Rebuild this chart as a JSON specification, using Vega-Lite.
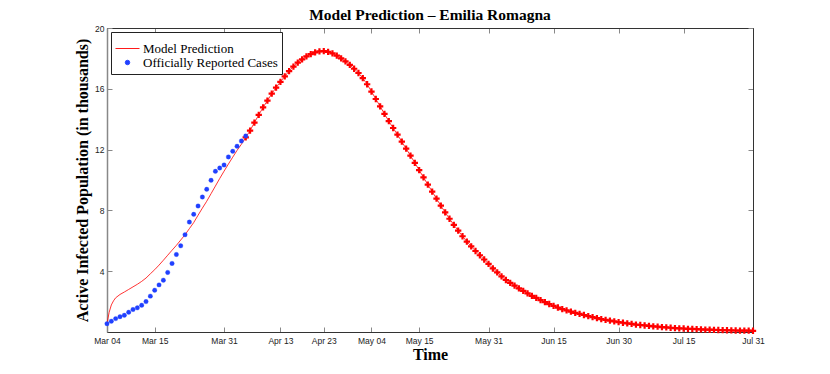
{
  "$schema": "https://vega.github.io/schema/vega-lite/v6.json",
  "width": 646,
  "height": 304,
  "autosize": {"type": "none"},
  "padding": {"left": 107, "top": 28, "right": 77, "bottom": 42},
  "title": {"text": "Model Prediction – Emilia Romagna", "font": "Liberation Serif", "fontSize": 15.5, "fontWeight": "bold", "anchor": "middle", "offset": 1, "color": "black"},
  "config": {
    "view": {"stroke": "#333", "strokeWidth": 1},
    "axis": {"grid": false, "domainColor": "#333", "tickColor": "#888", "tickSize": -5, "labelFont": "Liberation Sans", "labelFontSize": 8.5, "labelColor": "#222", "labelFlush": false, "titleFont": "Liberation Serif", "titleFontSize": 16, "titleFontWeight": "bold", "titleColor": "black"},
    "legend": {"title": null, "orient": "top-left", "offset": 4, "strokeColor": "#222", "fillColor": "white", "padding": 4,
      "labelFont": "Liberation Serif", "labelFontSize": 13, "labelColor": "black", "labelOffset": 3, "rowPadding": 0, "symbolStrokeWidth": 0.9}
  },
  "datasets": {
    "model": [
      {"date": "2020-03-04", "model": 0.55}, {"date": "2020-03-04T12:00:00Z", "model": 1.3}, {"date": "2020-03-05", "model": 1.78}, {"date": "2020-03-05T12:00:00Z", "model": 2.05},
      {"date": "2020-03-06", "model": 2.25}, {"date": "2020-03-07", "model": 2.47}, {"date": "2020-03-08", "model": 2.63}, {"date": "2020-03-09", "model": 2.8},
      {"date": "2020-03-10", "model": 2.97}, {"date": "2020-03-11", "model": 3.14}, {"date": "2020-03-12", "model": 3.33}, {"date": "2020-03-13", "model": 3.55},
      {"date": "2020-03-14", "model": 3.83}, {"date": "2020-03-15", "model": 4.1}, {"date": "2020-03-16", "model": 4.4}, {"date": "2020-03-17", "model": 4.72},
      {"date": "2020-03-18", "model": 5.05}, {"date": "2020-03-19", "model": 5.38}, {"date": "2020-03-20", "model": 5.7}, {"date": "2020-03-21", "model": 6.05},
      {"date": "2020-03-22", "model": 6.4}, {"date": "2020-03-23", "model": 6.8}, {"date": "2020-03-24", "model": 7.2}, {"date": "2020-03-25", "model": 7.68},
      {"date": "2020-03-26", "model": 8.15}, {"date": "2020-03-27", "model": 8.6}, {"date": "2020-03-28", "model": 9.1}, {"date": "2020-03-29", "model": 9.6},
      {"date": "2020-03-30", "model": 10.1}, {"date": "2020-03-31", "model": 10.58}, {"date": "2020-04-01", "model": 11.05}, {"date": "2020-04-02", "model": 11.5},
      {"date": "2020-04-03", "model": 11.95}, {"date": "2020-04-04", "model": 12.35}, {"date": "2020-04-05", "model": 12.8}, {"date": "2020-04-06", "model": 13.25},
      {"date": "2020-04-07", "model": 13.78}, {"date": "2020-04-08", "model": 14.28}, {"date": "2020-04-09", "model": 14.78}, {"date": "2020-04-10", "model": 15.22},
      {"date": "2020-04-11", "model": 15.68}, {"date": "2020-04-12", "model": 16.08}, {"date": "2020-04-13", "model": 16.46}, {"date": "2020-04-14", "model": 16.82},
      {"date": "2020-04-15", "model": 17.16}, {"date": "2020-04-16", "model": 17.46}, {"date": "2020-04-17", "model": 17.72}, {"date": "2020-04-18", "model": 17.94},
      {"date": "2020-04-19", "model": 18.13}, {"date": "2020-04-20", "model": 18.28}, {"date": "2020-04-21", "model": 18.4}, {"date": "2020-04-22", "model": 18.46},
      {"date": "2020-04-23", "model": 18.48}, {"date": "2020-04-24", "model": 18.43}, {"date": "2020-04-25", "model": 18.33}, {"date": "2020-04-26", "model": 18.18},
      {"date": "2020-04-27", "model": 18.0}, {"date": "2020-04-28", "model": 17.8}, {"date": "2020-04-29", "model": 17.57}, {"date": "2020-04-30", "model": 17.32},
      {"date": "2020-05-01", "model": 17.04}, {"date": "2020-05-02", "model": 16.7}, {"date": "2020-05-03", "model": 16.3}, {"date": "2020-05-04", "model": 15.82},
      {"date": "2020-05-05", "model": 15.33}, {"date": "2020-05-06", "model": 14.84}, {"date": "2020-05-07", "model": 14.35}, {"date": "2020-05-08", "model": 13.87},
      {"date": "2020-05-09", "model": 13.42}, {"date": "2020-05-10", "model": 12.98}, {"date": "2020-05-11", "model": 12.52}, {"date": "2020-05-12", "model": 12.06},
      {"date": "2020-05-13", "model": 11.6}, {"date": "2020-05-14", "model": 11.13}, {"date": "2020-05-15", "model": 10.65}, {"date": "2020-05-16", "model": 10.17},
      {"date": "2020-05-17", "model": 9.7}, {"date": "2020-05-18", "model": 9.24}, {"date": "2020-05-19", "model": 8.77}, {"date": "2020-05-20", "model": 8.31},
      {"date": "2020-05-21", "model": 7.87}, {"date": "2020-05-22", "model": 7.45}, {"date": "2020-05-23", "model": 7.05}, {"date": "2020-05-24", "model": 6.67},
      {"date": "2020-05-25", "model": 6.3}, {"date": "2020-05-26", "model": 5.95}, {"date": "2020-05-27", "model": 5.63}, {"date": "2020-05-28", "model": 5.33},
      {"date": "2020-05-29", "model": 5.05}, {"date": "2020-05-30", "model": 4.77}, {"date": "2020-05-31", "model": 4.48}, {"date": "2020-06-01", "model": 4.18},
      {"date": "2020-06-02", "model": 3.92}, {"date": "2020-06-03", "model": 3.66}, {"date": "2020-06-04", "model": 3.42}, {"date": "2020-06-05", "model": 3.23},
      {"date": "2020-06-06", "model": 3.05}, {"date": "2020-06-07", "model": 2.87}, {"date": "2020-06-08", "model": 2.7}, {"date": "2020-06-09", "model": 2.54},
      {"date": "2020-06-10", "model": 2.38}, {"date": "2020-06-11", "model": 2.24}, {"date": "2020-06-12", "model": 2.1}, {"date": "2020-06-13", "model": 1.96},
      {"date": "2020-06-14", "model": 1.84}, {"date": "2020-06-15", "model": 1.72}, {"date": "2020-06-16", "model": 1.61}, {"date": "2020-06-17", "model": 1.51},
      {"date": "2020-06-18", "model": 1.42}, {"date": "2020-06-19", "model": 1.34}, {"date": "2020-06-20", "model": 1.26}, {"date": "2020-06-21", "model": 1.19},
      {"date": "2020-06-22", "model": 1.12}, {"date": "2020-06-23", "model": 1.05}, {"date": "2020-06-24", "model": 0.98}, {"date": "2020-06-25", "model": 0.91},
      {"date": "2020-06-26", "model": 0.85}, {"date": "2020-06-27", "model": 0.8}, {"date": "2020-06-28", "model": 0.75}, {"date": "2020-06-29", "model": 0.7},
      {"date": "2020-06-30", "model": 0.65}, {"date": "2020-07-01", "model": 0.61}, {"date": "2020-07-02", "model": 0.57}, {"date": "2020-07-03", "model": 0.53},
      {"date": "2020-07-04", "model": 0.49}, {"date": "2020-07-05", "model": 0.46}, {"date": "2020-07-06", "model": 0.43}, {"date": "2020-07-07", "model": 0.4},
      {"date": "2020-07-08", "model": 0.37}, {"date": "2020-07-09", "model": 0.35}, {"date": "2020-07-10", "model": 0.32}, {"date": "2020-07-11", "model": 0.3},
      {"date": "2020-07-12", "model": 0.28}, {"date": "2020-07-13", "model": 0.26}, {"date": "2020-07-14", "model": 0.24}, {"date": "2020-07-15", "model": 0.23},
      {"date": "2020-07-16", "model": 0.21}, {"date": "2020-07-17", "model": 0.2}, {"date": "2020-07-18", "model": 0.19}, {"date": "2020-07-19", "model": 0.17},
      {"date": "2020-07-20", "model": 0.16}, {"date": "2020-07-21", "model": 0.15}, {"date": "2020-07-22", "model": 0.14}, {"date": "2020-07-23", "model": 0.13},
      {"date": "2020-07-24", "model": 0.12}, {"date": "2020-07-25", "model": 0.115}, {"date": "2020-07-26", "model": 0.11}, {"date": "2020-07-27", "model": 0.1},
      {"date": "2020-07-28", "model": 0.095}, {"date": "2020-07-29", "model": 0.09}, {"date": "2020-07-30", "model": 0.085}, {"date": "2020-07-31", "model": 0.08}
    ],
    "reported": [
      {"date": "2020-03-04", "cases": 0.55}, {"date": "2020-03-05", "cases": 0.71}, {"date": "2020-03-06", "cases": 0.88}, {"date": "2020-03-07", "cases": 1.01},
      {"date": "2020-03-08", "cases": 1.1}, {"date": "2020-03-09", "cases": 1.3}, {"date": "2020-03-10", "cases": 1.48}, {"date": "2020-03-11", "cases": 1.59},
      {"date": "2020-03-12", "cases": 1.76}, {"date": "2020-03-13", "cases": 2.0}, {"date": "2020-03-14", "cases": 2.36}, {"date": "2020-03-15", "cases": 2.75},
      {"date": "2020-03-16", "cases": 3.1}, {"date": "2020-03-17", "cases": 3.41}, {"date": "2020-03-18", "cases": 3.92}, {"date": "2020-03-19", "cases": 4.51},
      {"date": "2020-03-20", "cases": 5.1}, {"date": "2020-03-21", "cases": 5.67}, {"date": "2020-03-22", "cases": 6.4}, {"date": "2020-03-23", "cases": 7.23},
      {"date": "2020-03-24", "cases": 7.74}, {"date": "2020-03-25", "cases": 8.29}, {"date": "2020-03-26", "cases": 8.88}, {"date": "2020-03-27", "cases": 9.39},
      {"date": "2020-03-28", "cases": 9.98}, {"date": "2020-03-29", "cases": 10.57}, {"date": "2020-03-30", "cases": 10.79}, {"date": "2020-03-31", "cases": 10.99},
      {"date": "2020-04-01", "cases": 11.52}, {"date": "2020-04-02", "cases": 11.89}, {"date": "2020-04-03", "cases": 12.22}, {"date": "2020-04-04", "cases": 12.57},
      {"date": "2020-04-05", "cases": 12.9}
    ]
  },
  "layer": [
    {
      "data": {"name": "model"},
      "mark": {"type": "line", "color": "#ff0000", "strokeWidth": 0.8},
      "encoding": {
        "x": {"field": "date", "type": "temporal",
          "scale": {"type": "utc", "domain": [{"year": 2020, "month": 3, "date": 4, "utc": true}, {"year": 2020, "month": 7, "date": 31, "utc": true}]},
          "axis": {"title": "Time", "format": "%b %d", "labelPadding": 9, "titlePadding": 2,
            "values": [
              {"year": 2020, "month": 3, "date": 4, "utc": true}, {"year": 2020, "month": 3, "date": 15, "utc": true}, {"year": 2020, "month": 3, "date": 31, "utc": true},
              {"year": 2020, "month": 4, "date": 13, "utc": true}, {"year": 2020, "month": 4, "date": 23, "utc": true}, {"year": 2020, "month": 5, "date": 4, "utc": true},
              {"year": 2020, "month": 5, "date": 15, "utc": true}, {"year": 2020, "month": 5, "date": 31, "utc": true}, {"year": 2020, "month": 6, "date": 15, "utc": true},
              {"year": 2020, "month": 6, "date": 30, "utc": true}, {"year": 2020, "month": 7, "date": 15, "utc": true}, {"year": 2020, "month": 7, "date": 31, "utc": true}
            ]}},
        "y": {"field": "model", "type": "quantitative", "scale": {"domain": [0, 20]},
          "axis": {"title": "Active Infected Population (in thousands)", "values": [4, 8, 12, 16, 20], "labelPadding": 8, "titlePadding": 4, "domainColor": "#888", "domainWidth": 1.5}}
      }
    },
    {
      "data": {"name": "model"},
      "transform": [{"filter": {"field": "date", "gte": {"year": 2020, "month": 4, "date": 5, "utc": true}}}],
      "mark": {"type": "point", "shape": "M-1,0H1M0,-1V1", "filled": false, "stroke": "#ff0000", "strokeWidth": 2.2, "size": 40, "opacity": 1},
      "encoding": {
        "x": {"field": "date", "type": "temporal",
          "axis": {"orient": "top", "title": null, "labels": false,
            "values": [
              {"year": 2020, "month": 3, "date": 4, "utc": true}, {"year": 2020, "month": 3, "date": 15, "utc": true}, {"year": 2020, "month": 3, "date": 31, "utc": true},
              {"year": 2020, "month": 4, "date": 13, "utc": true}, {"year": 2020, "month": 4, "date": 23, "utc": true}, {"year": 2020, "month": 5, "date": 4, "utc": true},
              {"year": 2020, "month": 5, "date": 15, "utc": true}, {"year": 2020, "month": 5, "date": 31, "utc": true}, {"year": 2020, "month": 6, "date": 15, "utc": true},
              {"year": 2020, "month": 6, "date": 30, "utc": true}, {"year": 2020, "month": 7, "date": 15, "utc": true}, {"year": 2020, "month": 7, "date": 31, "utc": true}
            ]}},
        "y": {"field": "model", "type": "quantitative", "axis": {"orient": "right", "title": null, "labels": false, "values": [4, 8, 12, 16, 20]}}
      }
    },
    {
      "data": {"name": "reported"},
      "mark": {"type": "point", "filled": true, "opacity": 1, "strokeWidth": 0.3},
      "encoding": {
        "x": {"field": "date", "type": "temporal", "axis": null},
        "y": {"field": "cases", "type": "quantitative", "axis": null},
        "color": {"datum": "Officially Reported Cases",
          "scale": {"domain": ["Model Prediction", "Officially Reported Cases"], "range": ["#ff0000", "#2040ff"]}},
        "stroke": {"datum": "Officially Reported Cases",
          "scale": {"domain": ["Model Prediction", "Officially Reported Cases"], "range": ["#ff0000", "#2040ff"]}},
        "shape": {"datum": "Officially Reported Cases",
          "scale": {"domain": ["Model Prediction", "Officially Reported Cases"], "range": ["stroke", "circle"]}},
        "size": {"datum": "Officially Reported Cases",
          "scale": {"type": "ordinal", "domain": ["Model Prediction", "Officially Reported Cases"], "range": [576, 20]}}
      }
    }
  ],
  "resolve": {"axis": {"x": "independent", "y": "independent"}}
}
